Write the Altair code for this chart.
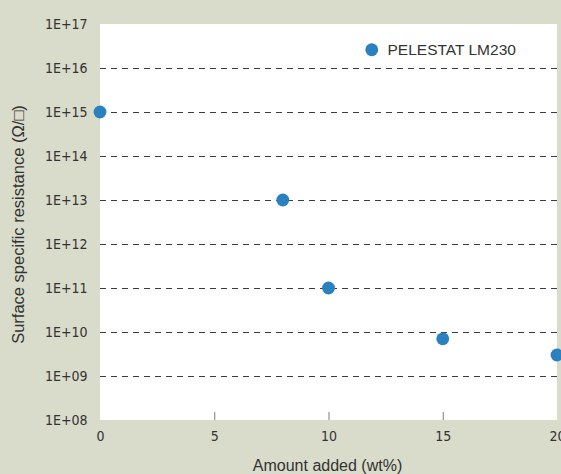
import altair as alt
import pandas as pd

amount = [0, 8, 10, 15, 20]
resistance = [1e15, 1e13, 1e11, 7e9, 3e9]
series = ["PELESTAT LM230"] * 5
grid_values = [1e9, 1e10, 1e11, 1e12, 1e13, 1e14, 1e15, 1e16]
x_ticks = [5, 10, 15]

BG = "#d9dbcb"
TICKFONT = "'DejaVu Sans Condensed', 'Liberation Sans', sans-serif"
FONT = "'Liberation Sans', Arial, sans-serif"

df = pd.DataFrame({"amount": amount, "res": resistance, "series": series})
grid_df = pd.DataFrame({"g": grid_values})
tick_df = pd.DataFrame({"t": x_ticks})

xscale = alt.Scale(domain=[0, 20], nice=False, zero=False)
yscale = alt.Scale(type="log", domain=[1e8, 1e17], nice=False)

label_expr = ("'1E+' + (log(datum.value)/LN10 < 9.5 ? '0' : '') + "
              "format(log(datum.value)/LN10, '.0f')")

grid = alt.Chart(grid_df).mark_rule(
    color="#3c3c3c", strokeWidth=1, strokeDash=[6, 5], yOffset=0.5
).encode(
    y=alt.Y("g:Q", scale=yscale),
)

ticks = alt.Chart(tick_df).mark_tick(
    color="#444444", thickness=1, size=8, orient="vertical", yOffset=-4, xOffset=0.5
).encode(
    x=alt.X("t:Q", scale=xscale),
    y=alt.datum(1e8),
)

points = alt.Chart(df).mark_point(
    filled=True, size=165, opacity=1
).encode(
    x=alt.X("amount:Q", scale=xscale,
            axis=alt.Axis(values=[0, 5, 10, 15, 20], ticks=False, domain=False,
                          grid=False, labelFont=TICKFONT, labelFontSize=14,
                          labelColor="#333333", labelPadding=9, labelFlush=False,
                          title="Amount added (wt%)", titleFont=FONT,
                          titleFontSize=16, titleFontWeight="normal",
                          titleColor="#333333", titleX=227, titleY=45,
                          titleBaseline="middle", titleAlign="center")),
    y=alt.Y("res:Q", scale=yscale,
            axis=alt.Axis(values=[1e8, 1e9, 1e10, 1e11, 1e12, 1e13, 1e14, 1e15, 1e16, 1e17],
                          labelExpr=label_expr, ticks=False, domain=False,
                          grid=False, labelFont=TICKFONT, labelFontSize=14,
                          labelColor="#333333", labelPadding=13, labelFlush=False,
                          title="Surface specific resistance (Ω/□)", titleFont=FONT,
                          titleFontSize=16.5, titleFontWeight="normal",
                          titleColor="#333333", titleX=-82, titleY=200,
                          titleAngle=-90, titleBaseline="middle", titleAlign="center")),
    color=alt.Color("series:N", scale=alt.Scale(range=["#2b80bf"]),
                    legend=alt.Legend(title=None, orient="none", legendX=264, legendY=18,
                                      labelFont=FONT, labelFontSize=15.5,
                                      labelColor="#333333", symbolSize=165,
                                      symbolType="circle", padding=0,
                                      labelOffset=8)),
)

chart = alt.layer(grid, ticks, points).properties(
    width=457, height=396,
    autosize=alt.AutoSizeParams(type="none"),
    padding={"left": 100, "top": 24, "right": 4, "bottom": 54},
    background=BG,
).configure_view(
    fill="white", stroke=None
)

chart.save("out.html", embed_options={"renderer": "svg", "actions": False})

with open("out.html", "r", encoding="utf-8") as f:
    html = f.read()
html = html.replace(
    "<head>",
    "<head><style>html,body{background:%s;margin:0;padding:0;overflow:hidden;}</style>" % BG,
    1)
with open("out.html", "w", encoding="utf-8") as f:
    f.write(html)
